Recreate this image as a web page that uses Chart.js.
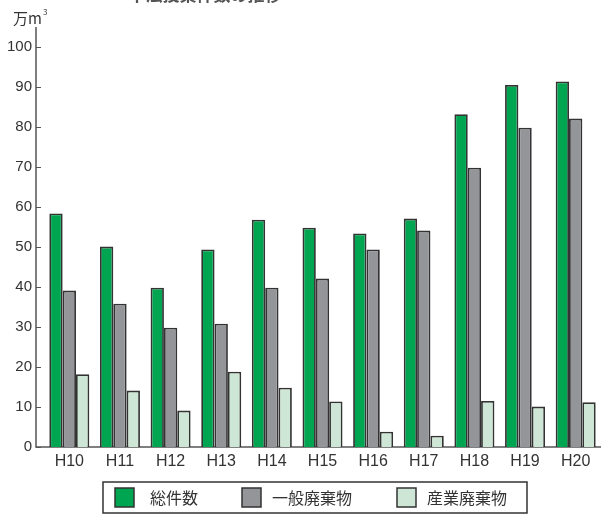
<!DOCTYPE html>
<html>
<head>
<meta charset="utf-8">
<script src="https://cdn.jsdelivr.net/npm/chart.js@4/dist/chart.umd.min.js"></script>
<style>
   html, body { margin: 0; padding: 0; background: #fff; }
   #wrap { width: 607px; height: 516px; position: relative; }
</style>
</head>
<body>
<div id="wrap"><canvas id="chart"></canvas></div>
<script>
// data
const years = ["H10", "H11", "H12", "H13", "H14", "H15", "H16", "H17", "H18", "H19", "H20"];
const totalCount = [58.4, 50.1, 39.8, 49.4, 56.8, 54.8, 53.4, 57.1, 83.2, 90.5, 91.4];
const generalWaste = [39.1, 35.8, 29.8, 30.8, 39.8, 42.1, 49.4, 54.1, 69.8, 79.8, 82.1];
const industrialWaste = [18.2, 14.1, 9.1, 18.8, 14.8, 11.4, 3.8, 2.8, 11.5, 10.1, 11.2];
const yTicks = [0, 10, 20, 30, 40, 50, 60, 70, 80, 90, 100];

const seriesNames = ["総件数", "一般廃棄物", "産業廃棄物"];
const seriesColors = ["#00a551", "#939598", "#cde6d5"];
const edgeColor = "#333";
const axisColor = "#555";
const jpFont = "'Noto Sans CJK JP', 'Noto Sans', sans-serif";

// axis lines, inner ticks, unit, title and boxed legend
const decorPlugin = {
   id: "decor",
   beforeDatasetsDraw(chart) {
      const { ctx, chartArea, scales } = chart;
      const y = scales.y;
      const axisX = 36;
      ctx.save();
      ctx.strokeStyle = axisColor;
      ctx.lineWidth = 1.5;
      ctx.beginPath();
      ctx.moveTo(axisX, chartArea.top);
      ctx.lineTo(axisX, y.getPixelForValue(0));
      ctx.lineTo(chartArea.right, y.getPixelForValue(0));
      ctx.stroke();
      ctx.lineWidth = 1;
      yTicks.forEach((v) => {
         const py = Math.round(y.getPixelForValue(v)) + 0.5;
         ctx.beginPath();
         ctx.moveTo(axisX, py);
         ctx.lineTo(axisX + 5, py);
         ctx.stroke();
      });
      ctx.restore();
   },
   afterDraw(chart) {
      const { ctx } = chart;
      ctx.save();

      // title (cut off at the top edge)
      ctx.fillStyle = "#555";
      ctx.font = "bold 17px " + jpFont;
      ctx.textAlign = "center";
      ctx.textBaseline = "alphabetic";
      ctx.fillText("不法投棄件数の推移", 205, 1);

      // unit
      ctx.fillStyle = "#333";
      ctx.font = "15px " + jpFont;
      ctx.textAlign = "left";
      ctx.textBaseline = "middle";
      ctx.fillText("万m", 13, 18);
      ctx.font = "8px " + jpFont;
      ctx.fillText("3", 43, 12);

      // legend
      ctx.strokeStyle = "#333";
      ctx.lineWidth = 1.5;
      ctx.strokeRect(103, 482, 424, 31);
      const boxX = [115, 242, 397];
      const textX = [150, 272, 427];
      ctx.font = "16px " + jpFont;
      ctx.textBaseline = "middle";
      chart.data.datasets.forEach((ds, i) => {
         ctx.fillStyle = ds.backgroundColor;
         ctx.fillRect(boxX[i], 488, 19, 19);
         ctx.strokeStyle = edgeColor;
         ctx.lineWidth = 1.5;
         ctx.strokeRect(boxX[i], 488, 19, 19);
         ctx.fillStyle = "#333";
         ctx.fillText(ds.label, textX[i], 498);
      });
      ctx.restore();
   },
};

const makeDataset = (i, values) => ({
   label: seriesNames[i],
   data: values,
   backgroundColor: seriesColors[i],
   borderColor: edgeColor,
   borderWidth: 1.8,
   categoryPercentage: 0.79,
   barPercentage: 1.0,
});

const config = {
   type: "bar",
   data: {
      labels: years,
      datasets: [
         makeDataset(0, totalCount),
         makeDataset(1, generalWaste),
         makeDataset(2, industrialWaste),
      ],
   },
   options: {
      responsive: true,
      maintainAspectRatio: false,
      animation: false,
      layout: { padding: { top: 27, right: 6, bottom: 0, left: 0 } },
      plugins: {
         legend: { display: false },
         tooltip: { enabled: false },
         title: { display: false },
      },
      scales: {
         x: {
            grid: { display: false, drawTicks: false },
            border: { display: false },
            ticks: {
               color: "#333",
               padding: 5,
               font: { family: "'Liberation Sans', Arial, sans-serif", size: 16 },
               maxRotation: 0,
            },
            afterFit: (scale) => {
               scale.height = 69;
            },
         },
         y: {
            min: 0,
            max: 105,
            grid: { display: false, drawTicks: false },
            border: { display: false },
            ticks: {
               stepSize: 10,
               color: "#333",
               padding: 12,
               font: { family: "'Liberation Sans', Arial, sans-serif", size: 15 },
            },
            afterBuildTicks: (scale) => {
               scale.ticks = yTicks.map((v) => ({ value: v }));
            },
            afterFit: (scale) => {
               scale.width = 44;
            },
         },
      },
   },
   plugins: [decorPlugin],
};

const myChart = new Chart(document.getElementById("chart"), config);
</script>
</body>
</html>
